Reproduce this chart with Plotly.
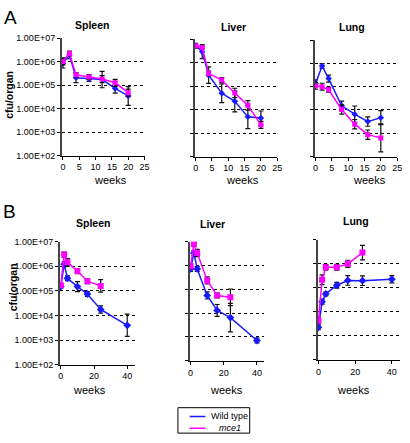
import numpy as np
import plotly.graph_objects as go

W, H = 410, 443

# ---------------- data (log10 cfu/organ, error = half-width in decades) ----------------
weeks_a = [0, 2, 4, 8, 12, 16, 20]
weeks_b_wt = [0, 2, 4, 10, 16, 24, 40]
weeks_b_mce = [0, 2, 4, 10, 16, 24]

spleen_a_wt = [5.93, 6.28, 5.31, 5.26, 5.24, 4.86, 4.54]
spleen_a_wt_err = [0.2, 0.15, 0.2, 0.1, 0.35, 0.2, 0.4]
spleen_a_mce = [6.01, 6.35, 5.44, 5.35, 5.26, 5.10, 4.68]
spleen_a_mce_err = [0.15, 0.1, 0.1, 0.1, 0.15, 0.15, 0.15]

liver_a_wt = [6.72, 6.47, 5.47, 4.70, 4.35, 3.69, 3.64]
liver_a_wt_err = [0.1, 0.3, 0.35, 0.4, 0.45, 0.5, 0.3]
liver_a_mce = [6.72, 6.65, 5.54, 5.26, 4.71, 4.18, 3.35]
liver_a_mce_err = [0.05, 0.05, 0.1, 0.1, 0.2, 0.2, 0.15]

lung_a_wt = [5.14, 5.89, 5.35, 4.18, 3.82, 3.50, 3.67]
lung_a_wt_err = [0.15, 0.1, 0.15, 0.2, 0.35, 0.2, 0.3]
lung_a_mce = [5.04, 5.00, 4.87, 4.02, 3.39, 2.94, 2.80]
lung_a_mce_err = [0.15, 0.15, 0.1, 0.2, 0.2, 0.2, 0.6]

spleen_b_wt = [5.17, 6.08, 5.51, 5.17, 4.87, 4.24, 3.60]
spleen_b_wt_err = [0.05, 0.1, 0.1, 0.2, 0.1, 0.15, 0.45]
spleen_b_mce = [5.23, 6.47, 6.16, 5.80, 5.39, 5.20]
spleen_b_mce_err = [0.05, 0.1, 0.15, 0.1, 0.1, 0.25]

liver_b_wt = [5.85, 6.52, 5.85, 4.74, 4.11, 3.81, 2.85]
liver_b_wt_err = [0.1, 0.1, 0.1, 0.15, 0.25, 0.6, 0.1]
liver_b_mce = [5.96, 6.89, 6.52, 5.37, 4.74, 4.66]
liver_b_mce_err = [0.1, 0.05, 0.15, 0.15, 0.1, 0.35]

lung_b_wt = [3.35, 4.41, 4.74, 5.10, 5.30, 5.29, 5.35]
lung_b_wt_err = [0.1, 0.1, 0.08, 0.12, 0.2, 0.2, 0.15]
lung_b_mce = [3.62, 5.33, 5.85, 5.85, 5.99, 6.46]
lung_b_mce_err = [0.1, 0.2, 0.12, 0.12, 0.15, 0.3]

y_tickvals = [1e2, 1e3, 1e4, 1e5, 1e6, 1e7]
y_ticktext = ["1.00E+02", "1.00E+03", "1.00E+04", "1.00E+05", "1.00E+06", "1.00E+07"]
x_ticks_a = [0, 5, 10, 15, 20, 25]
x_ticks_b = [0, 20, 40]
organs = ["Spleen", "Liver", "Lung"]
series_names = ["Wild type", "mce1"]

BLUE = "#1a1aff"
MAG = "#ff00ff"
FONT = "Liberation Sans, Arial, sans-serif"


def px(x):
    return x / W


def py(y):
    return 1 - y / H


panels = [
    dict(x=(61, 145), y=(34, 154), xr=[-0.3, 25], xt=x_ticks_a, ylab=True,
         wt=(weeks_a, spleen_a_wt, spleen_a_wt_err), mce=(weeks_a, spleen_a_mce, spleen_a_mce_err), ms=5),
    dict(x=(196, 280), y=(35, 155), xr=[-0.3, 25], xt=x_ticks_a, ylab=False,
         wt=(weeks_a, liver_a_wt, liver_a_wt_err), mce=(weeks_a, liver_a_mce, liver_a_mce_err), ms=5),
    dict(x=(318, 402), y=(36, 155), xr=[-0.3, 25], xt=x_ticks_a, ylab=False,
         wt=(weeks_a, lung_a_wt, lung_a_wt_err), mce=(weeks_a, lung_a_mce, lung_a_mce_err), ms=5),
    dict(x=(59, 135), y=(242, 368), xr=[-0.5, 44.5], xt=x_ticks_b, ylab=True,
         wt=(weeks_b_wt, spleen_b_wt, spleen_b_wt_err), mce=(weeks_b_mce, spleen_b_mce, spleen_b_mce_err), ms=6),
    dict(x=(191, 267), y=(242, 364), xr=[-0.5, 44.5], xt=x_ticks_b, ylab=False,
         wt=(weeks_b_wt, liver_b_wt, liver_b_wt_err), mce=(weeks_b_mce, liver_b_mce, liver_b_mce_err), ms=6),
    dict(x=(321, 405), y=(240, 363), xr=[-0.5, 44.5], xt=x_ticks_b, ylab=False,
         wt=(weeks_b_wt, lung_b_wt, lung_b_wt_err), mce=(weeks_b_mce, lung_b_mce, lung_b_mce_err), ms=6),
]

fig = go.Figure()
layout = {}


def add_series(i, data, color, symbol, size, name):
    x, ylog, err = data
    ylog = np.array(ylog)
    e = np.array(err)
    y = 10 ** ylog
    suffix = "" if i == 0 else str(i + 1)
    fig.add_trace(go.Scatter(
        x=x, y=y, mode="lines+markers", name=name, showlegend=False,
        line=dict(color=color, width=1.5),
        marker=dict(color=color, symbol=symbol, size=size),
        error_y=dict(type="data", symmetric=False,
                     array=y * (10 ** e - 1), arrayminus=y * (1 - 10 ** (-e)),
                     color="#111111", thickness=1.2, width=2.5),
        xaxis="x" + suffix, yaxis="y" + suffix,
    ))


for i, p in enumerate(panels):
    suffix = "" if i == 0 else str(i + 1)
    layout["xaxis" + suffix] = dict(
        domain=[px(p["x"][0]), px(p["x"][1])], range=p["xr"], anchor="y" + suffix,
        tickvals=p["xt"], ticks="outside", ticklen=3, tickcolor="black",
        showline=True, linecolor="black", linewidth=1, showgrid=False, zeroline=False,
        tickfont=dict(family=FONT, size=9, color="black"),
    )
    layout["yaxis" + suffix] = dict(
        domain=[py(p["y"][1]), py(p["y"][0])], type="log", range=[2, 7], anchor="x" + suffix,
        tickvals=y_tickvals, ticktext=y_ticktext, showticklabels=p["ylab"],
        ticks="outside", ticklen=3, tickcolor="black",
        showline=True, linecolor="#444444", linewidth=2,
        showgrid=True, gridcolor="black", griddash="dot", gridwidth=1, zeroline=False,
        tickfont=dict(family=FONT, size=9, color="black"),
    )
    add_series(i, p["wt"], BLUE, "diamond", p["ms"], series_names[0])
    add_series(i, p["mce"], MAG, "square", p["ms"], series_names[1])

annotations = []


def text(x, y, s, size, bold=False, angle=0, xanchor="center", italic=False):
    if bold:
        s = "<b>" + s + "</b>"
    if italic:
        s = "<i>" + s + "</i>"
    annotations.append(dict(x=px(x), y=py(y), xref="paper", yref="paper", text=s,
                            showarrow=False, textangle=angle, xanchor=xanchor, yanchor="middle",
                            font=dict(family=FONT, size=size, color="black")))


text(9, 13, "A", 19)
text(8, 211, "B", 19)
title_pos = [(92, 20), (236, 22), (356, 23), (93, 223), (214, 224), (360, 221)]
for i, (tx, ty) in enumerate(title_pos):
    text(tx, ty, organs[i % 3], 10.5, bold=True)
weeks_pos = [(110, 179), (245, 179), (374, 179), (89, 394), (228, 394), (358, 394)]
for (wx, wy) in weeks_pos:
    text(wx, wy, "weeks", 11)
text(7, 92, "cfu/organ", 10.5, bold=True, angle=-90)
text(12, 289, "cfu/organ", 10.5, bold=True, angle=-90)

shapes = [
    dict(type="rect", xref="paper", yref="paper", x0=px(179), x1=px(252), y0=py(438), y1=py(412),
         line=dict(color="black", width=1), fillcolor="white", layer="below"),
    dict(type="line", xref="paper", yref="paper", x0=px(191), x1=px(207), y0=py(421), y1=py(421),
         line=dict(color=BLUE, width=1.5)),
    dict(type="line", xref="paper", yref="paper", x0=px(191), x1=px(207), y0=py(433), y1=py(433),
         line=dict(color=MAG, width=1.5)),
]
text(211, 421, series_names[0], 9, xanchor="left")
text(219, 433, series_names[1], 9, xanchor="left", italic=True)

fig.update_layout(
    width=W, height=H, margin=dict(l=0, r=0, t=0, b=0),
    paper_bgcolor="white", plot_bgcolor="white",
    showlegend=False, annotations=annotations, shapes=shapes,
    **layout,
)

fig.write_html("out.html", config={"displayModeBar": False},
               post_script="document.body.style.margin='0';document.body.style.overflow='hidden';")
